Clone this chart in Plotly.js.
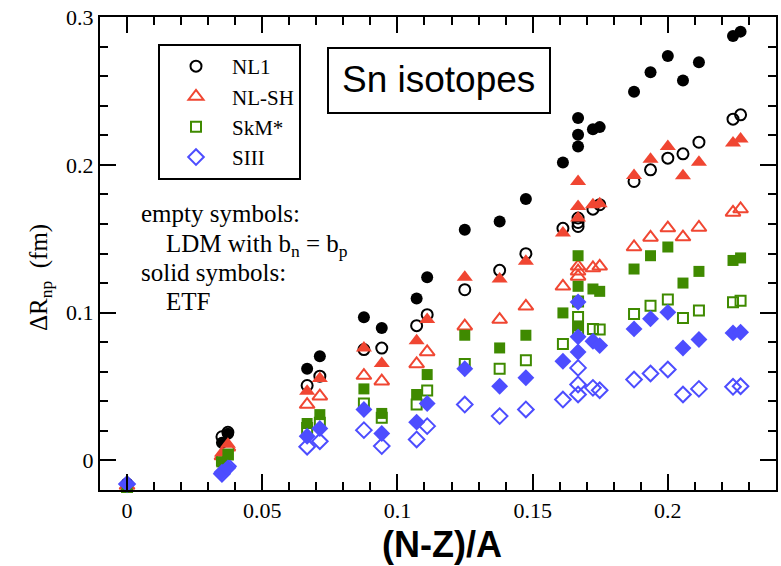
<!DOCTYPE html>
<html><head><meta charset="utf-8">
<script src="https://cdn.plot.ly/plotly-3.0.1.min.js"></script>
<style>html,body{margin:0;padding:0;background:#fff}</style>
</head><body><div id="chart" style="width:781px;height:566px"></div>
<script>
// (N-Z)/A
const xVals = [0, 0.0351, 0.0373, 0.0666, 0.0713, 0.0876, 0.0942, 0.1071, 0.111, 0.1249, 0.1378, 0.1475, 0.1612, 0.1668, 0.1668, 0.1668, 0.1723, 0.1748, 0.1875, 0.1936, 0.2, 0.2056, 0.2115, 0.2241, 0.2269];

// empty symbols: LDM with bn = bp
const nl1Empty  = [-0.016, 0.016, 0.019, 0.0507, 0.057, 0.075, 0.076, 0.0912, 0.0986, 0.1155, 0.1286, 0.1399, 0.157, 0.164, 0.1583, 0.161, 0.170, 0.173, 0.1887, 0.1966, 0.2045, 0.2074, 0.2153, 0.2309, 0.2338];
const nlshEmpty = [-0.017, 0.003, 0.009, 0.0378, 0.0435, 0.0574, 0.0536, 0.0653, 0.0734, 0.0908, 0.0953, 0.1043, 0.1178, 0.1313, 0.128, 0.1245, 0.1302, 0.1313, 0.1444, 0.1509, 0.1572, 0.1511, 0.1576, 0.1678, 0.1701];
const skmEmpty  = [-0.018, 0.000, 0.004, 0.022, 0.0255, 0.0385, 0.0288, 0.0378, 0.0473, 0.0653, 0.062, 0.0678, 0.0788, 0.1076, 0.0971, 0.089, 0.089, 0.0885, 0.0991, 0.1047, 0.1088, 0.0964, 0.1014, 0.107, 0.1081];
const siiiEmpty = [-0.016, -0.009, -0.004, 0.0093, 0.013, 0.0205, 0.0097, 0.0142, 0.0232, 0.0378, 0.030, 0.0345, 0.0412, 0.0626, 0.0514, 0.0446, 0.0491, 0.0475, 0.0547, 0.0588, 0.0615, 0.0446, 0.0484, 0.0498, 0.0502];

// solid symbols: ETF
const nl1Solid  = [-0.016, 0.012, 0.018, 0.062, 0.0705, 0.0968, 0.0896, 0.1095, 0.124, 0.156, 0.1617, 0.1768, 0.2016, 0.2316, 0.2203, 0.2124, 0.2241, 0.2255, 0.2495, 0.2626, 0.2736, 0.257, 0.2694, 0.2872, 0.2901];
const nlshSolid = [-0.017, 0.005, 0.011, 0.0468, 0.0554, 0.076, 0.0655, 0.081, 0.0953, 0.1239, 0.1228, 0.1347, 0.1538, 0.1887, 0.1718, 0.164, 0.173, 0.1736, 0.1928, 0.2038, 0.2124, 0.1926, 0.2018, 0.2147, 0.2174];
const skmSolid  = [-0.018, -0.001, 0.004, 0.025, 0.031, 0.0484, 0.0318, 0.0446, 0.0581, 0.0847, 0.0761, 0.0847, 0.0998, 0.1385, 0.1178, 0.091, 0.116, 0.1144, 0.1295, 0.1385, 0.1444, 0.12, 0.1279, 0.1353, 0.137];
const siiiSolid = [-0.016, -0.008, -0.005, 0.0164, 0.0216, 0.0345, 0.0182, 0.0259, 0.0385, 0.062, 0.0502, 0.0559, 0.0671, 0.1072, 0.0836, 0.0734, 0.0806, 0.0777, 0.089, 0.0959, 0.1002, 0.0761, 0.0818, 0.0863, 0.0867];

const names = ['NL1', 'NL-SH', 'SkM*', 'SIII'];
const colors = ['#000000', '#f04632', '#3f8a00', '#4d4dff'];
const symbols = ['circle', 'triangle-up', 'square', 'diamond'];
const openSizes = [11, 13, 10, 12];
const solidSizes = [12, 14, 11, 13];
const emptySets = [nl1Empty, nlshEmpty, skmEmpty, siiiEmpty];
const solidSets = [nl1Solid, nlshSolid, skmSolid, siiiSolid];

const traces = [];
for (let i = 0; i < 4; i++) {
  traces.push({
    type: 'scatter', mode: 'markers', x: xVals, y: emptySets[i], name: names[i],
    legendgroup: 'g' + i, showlegend: true,
    marker: {symbol: symbols[i] + '-open', size: openSizes[i], color: colors[i], line: {width: 2, color: colors[i]}},
    cliponaxis: false
  });
}
for (let i = 0; i < 4; i++) {
  traces.push({
    type: 'scatter', mode: 'markers', x: xVals, y: solidSets[i], name: names[i] + ' ETF',
    legendgroup: 's' + i, showlegend: false,
    marker: {symbol: symbols[i], size: solidSizes[i], color: colors[i], line: {width: 0}},
    cliponaxis: false
  });
}

const serif = "'Liberation Serif', 'Times New Roman', Times, serif";
const sans = "'Liberation Sans', Arial, sans-serif";
const L = 100, R = 5, T = 17, B = 76;
const W = 781 - L - R, H = 566 - T - B;
const px = v => (v - L) / W;
const py = v => (566 - B - v) / H;

const layout = {
  width: 781, height: 566,
  margin: {l: L, r: R, t: T, b: B},
  paper_bgcolor: 'white', plot_bgcolor: 'white',
  showlegend: true,
  xaxis: {
    range: [-0.01, 0.24], tickvals: [0, 0.05, 0.1, 0.15, 0.2], ticktext: ['0', '0.05', '0.1', '0.15', '0.2'],
    ticks: 'inside', ticklen: 16, tickwidth: 2, tickcolor: 'black',
    minor: {dtick: 0.01, tick0: 0, ticks: 'inside', ticklen: 8, tickwidth: 2, tickcolor: 'black', showgrid: false},
    showline: true, linewidth: 2, linecolor: 'black', mirror: 'ticks',
    showgrid: false, zeroline: false,
    tickfont: {family: serif, size: 22, color: 'black'}
  },
  yaxis: {
    range: [-0.02, 0.3], tickvals: [0, 0.1, 0.2, 0.3], ticktext: ['0', '0.1', '0.2', '0.3'],
    ticks: 'inside', ticklen: 16, tickwidth: 2, tickcolor: 'black',
    minor: {dtick: 0.02, tick0: 0, ticks: 'inside', ticklen: 8, tickwidth: 2, tickcolor: 'black', showgrid: false},
    showline: true, linewidth: 2, linecolor: 'black', mirror: 'ticks',
    showgrid: false, zeroline: false,
    tickfont: {family: serif, size: 22, color: 'black'}
  },
  legend: {
    x: px(158), y: py(44), xanchor: 'left', yanchor: 'top',
    bordercolor: 'black', borderwidth: 2, bgcolor: 'white',
    font: {family: serif, size: 21, color: 'black'},
    traceorder: 'grouped', tracegroupgap: 0, itemwidth: 62
  },
  shapes: [
    {type: 'rect', xref: 'paper', yref: 'paper', x0: px(328), x1: px(550), y0: py(113), y1: py(48), line: {color: 'black', width: 2}, fillcolor: 'white', layer: 'above'}
  ],
  annotations: [
    {xref: 'paper', yref: 'paper', x: px(439), y: py(80), text: 'Sn isotopes', showarrow: false, xanchor: 'center', yanchor: 'middle', font: {family: sans, size: 37, color: 'black'}},
    {xref: 'paper', yref: 'paper', x: px(139), y: py(213), text: 'empty symbols:', showarrow: false, xanchor: 'left', yanchor: 'middle', font: {family: serif, size: 25, color: 'black'}},
    {xref: 'paper', yref: 'paper', x: px(164), y: py(245), text: 'LDM with b<sub>n</sub> = b<sub>p</sub>', showarrow: false, xanchor: 'left', yanchor: 'middle', font: {family: serif, size: 25, color: 'black'}},
    {xref: 'paper', yref: 'paper', x: px(139), y: py(272), text: 'solid symbols:', showarrow: false, xanchor: 'left', yanchor: 'middle', font: {family: serif, size: 25, color: 'black'}},
    {xref: 'paper', yref: 'paper', x: px(164), y: py(301), text: 'ETF', showarrow: false, xanchor: 'left', yanchor: 'middle', font: {family: serif, size: 25, color: 'black'}},
    {xref: 'paper', yref: 'paper', x: px(442), y: py(544), text: '<b>(N-Z)/A</b>', showarrow: false, xanchor: 'center', yanchor: 'middle', font: {family: sans, size: 36, color: 'black'}},
    {xref: 'paper', yref: 'paper', x: px(40), y: py(278), text: 'ΔR<sub>np</sub>  (fm)', showarrow: false, textangle: -90, xanchor: 'center', yanchor: 'middle', font: {family: serif, size: 25, color: 'black'}}
  ]
};

Plotly.newPlot('chart', traces, layout, {displayModeBar: false, staticPlot: true});
</script>
</body></html>
